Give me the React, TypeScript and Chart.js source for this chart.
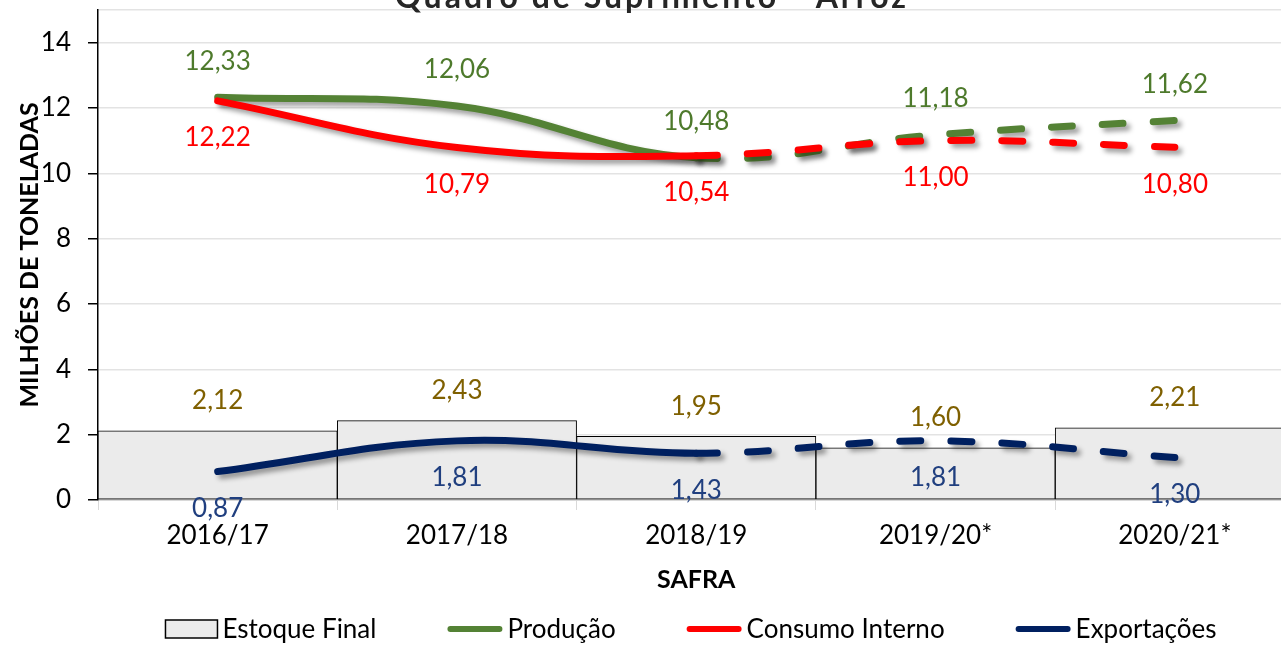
import { useEffect, useRef } from 'react';
import { Chart, registerables } from 'chart.js';

Chart.register(...registerables);

const categories = ['2016/17', '2017/18', '2018/19', '2019/20*', '2020/21*'];
const estoqueFinal = [2.12, 2.43, 1.95, 1.6, 2.21];
const producao = [12.33, 12.06, 10.48, 11.18, 11.62];
const consumoInterno = [12.22, 10.79, 10.54, 11.0, 10.8];
const exportacoes = [0.87, 1.81, 1.43, 1.81, 1.3];
const yTickValues = [0, 2, 4, 6, 8, 10, 12, 14];
const seriesNames = ['Estoque Final', 'Produção', 'Consumo Interno', 'Exportações'];
const titleText = 'Quadro de Suprimento - Arroz';
const xTitle = 'SAFRA';
const yTitle = 'MILHÕES DE TONELADAS';

const FONT = 'Lato, "Open Sans", sans-serif';
const COLORS = {
  bar: '#ebebeb',
  green: '#548235',
  red: '#ff0000',
  navy: '#002060',
};
const LABEL_STYLE = [
  { color: '#7f6000', offset: -30 },
  { color: '#4e7a2c', offset: -36 },
  { color: '#ff0000', offset: 37 },
  { color: '#203f7f', offset: 37 },
];

const fmt = (v: number) => v.toFixed(2).replace('.', ',');

const dashedAfter = (ctx: any) => (ctx.p0DataIndex >= 2 ? [21, 30] : undefined);

const shadowPlugin = {
  id: 'lineShadow',
  beforeDatasetDraw(chart: any, args: any) {
    const ds = chart.data.datasets[args.index];
    if (ds.type === 'line') {
      const ctx = chart.ctx;
      ctx.save();
      ctx.shadowColor = 'rgba(0,0,0,0.38)';
      ctx.shadowOffsetX = 4;
      ctx.shadowOffsetY = 4;
      ctx.shadowBlur = 5;
    }
  },
  afterDatasetDraw(chart: any, args: any) {
    const ds = chart.data.datasets[args.index];
    if (ds.type === 'line') chart.ctx.restore();
  },
};

const labelsPlugin = {
  id: 'valueLabels',
  afterDatasetsDraw(chart: any) {
    const ctx = chart.ctx;
    ctx.save();
    ctx.font = `26px ${FONT}`;
    ctx.textAlign = 'center';
    ctx.textBaseline = 'middle';
    chart.data.datasets.forEach((ds: any, i: number) => {
      const meta = chart.getDatasetMeta(i);
      const st = LABEL_STYLE[i];
      ctx.fillStyle = st.color;
      meta.data.forEach((el: any, j: number) => {
        ctx.fillText(fmt(ds.data[j]), el.x, el.y + st.offset);
      });
    });
    ctx.restore();
  },
};

const titlePlugin = {
  id: 'topTitle',
  afterDraw(chart: any) {
    const ctx = chart.ctx;
    ctx.save();
    ctx.font = `bold 32px ${FONT}`;
    (ctx as any).letterSpacing = '3px';
    ctx.fillStyle = '#262626';
    ctx.textAlign = 'center';
    ctx.textBaseline = 'alphabetic';
    ctx.fillText(titleText, 652, 8);
    ctx.restore();
  },
};

const legendPlugin = {
  id: 'customLegend',
  afterDraw(chart: any) {
    const ctx = chart.ctx;
    ctx.save();
    ctx.font = `26px ${FONT}`;
    ctx.textBaseline = 'middle';
    ctx.textAlign = 'left';
    const markerW = [52, 55, 55, 55];
    const gapText = 5;
    const gapItem = 71;
    const widths = seriesNames.map((n, i) => markerW[i] + gapText + ctx.measureText(n).width);
    const total = widths.reduce((a, b) => a + b, 0) + gapItem * (seriesNames.length - 1);
    let x = 691 - total / 2;
    const cy = 629;
    const ds = chart.data.datasets;
    seriesNames.forEach((n, i) => {
      if (i === 0) {
        ctx.fillStyle = ds[0].backgroundColor;
        ctx.strokeStyle = '#000';
        ctx.lineWidth = 1.5;
        ctx.fillRect(x, cy - 9, markerW[0], 18);
        ctx.strokeRect(x, cy - 9, markerW[0], 18);
      } else {
        ctx.strokeStyle = ds[i].borderColor;
        ctx.lineWidth = 6;
        ctx.lineCap = 'round';
        ctx.beginPath();
        ctx.moveTo(x + 3, cy);
        ctx.lineTo(x + markerW[i] - 3, cy);
        ctx.stroke();
      }
      ctx.fillStyle = '#000';
      ctx.fillText(n, x + markerW[i] + gapText, cy + 1);
      x += widths[i] + gapItem;
    });
    ctx.restore();
  },
};

export default function App() {
  const ref = useRef<HTMLCanvasElement | null>(null);

  useEffect(() => {
    if (!ref.current) return;
    const lineBase = {
      type: 'line' as const,
      borderWidth: 7,
      tension: 0.4,
      pointRadius: 0,
      pointHoverRadius: 0,
      borderCapStyle: 'round' as const,
      borderJoinStyle: 'round' as const,
      fill: false,
      segment: { borderDash: dashedAfter },
    };
    const chart = new Chart(ref.current, {
      type: 'bar',
      data: {
        labels: categories,
        datasets: [
          {
            type: 'bar',
            label: seriesNames[0],
            data: estoqueFinal,
            backgroundColor: COLORS.bar,
            borderColor: '#000',
            borderWidth: 1,
            borderSkipped: false,
            barPercentage: 1,
            categoryPercentage: 1,
            order: 10,
          },
          { ...lineBase, label: seriesNames[1], data: producao, borderColor: COLORS.green, order: 3 },
          { ...lineBase, label: seriesNames[2], data: consumoInterno, borderColor: COLORS.red, order: 2 },
          { ...lineBase, label: seriesNames[3], data: exportacoes, borderColor: COLORS.navy, order: 1 },
        ] as any,
      },
      options: {
        responsive: false,
        animation: false,
        devicePixelRatio: 1,
        layout: { padding: { top: 10, left: 0, right: 0, bottom: 46 } },
        plugins: {
          legend: { display: false },
          tooltip: { enabled: false },
          title: { display: false },
        },
        scales: {
          x: {
            grid: { drawOnChartArea: false, tickLength: 10, tickColor: '#d9d9d9', offset: true },
            border: { color: '#bfbfbf', width: 1.5 },
            ticks: { font: { family: FONT, size: 26 }, color: '#000', padding: 10, maxRotation: 0, autoSkip: false },
            title: {
              display: true,
              text: xTitle,
              color: '#000',
              font: { family: FONT, size: 25, weight: 'bold' },
              padding: { top: 0, bottom: 5 },
            },
            afterFit: (s: any) => {
              s.height = 100;
              s.paddingLeft = 0;
              s.paddingRight = 0;
            },
          },
          y: {
            min: 0,
            max: 15,
            ticks: {
              stepSize: 2,
              font: { family: FONT, size: 26 },
              color: '#000',
              padding: 17,
              callback: (v: any) => (yTickValues.includes(Number(v)) ? String(v) : ''),
            },
            grid: {
              color: '#e3e3e3',
              lineWidth: 1.5,
              tickLength: 10,
              tickWidth: 1.5,
              tickColor: (c: any) => (c.tick && yTickValues.includes(c.tick.value) ? '#000' : 'rgba(0,0,0,0)'),
            },
            border: { color: '#000', width: 1.5 },
            title: {
              display: true,
              text: yTitle,
              color: '#000',
              font: { family: FONT, size: 25, weight: 'bold' },
              padding: { top: 15, bottom: 0 },
            },
            afterFit: (s: any) => {
              s.width = 98;
              s.paddingTop = 0;
              s.paddingBottom = 0;
            },
          },
          yR: {
            type: 'linear',
            position: 'right',
            display: true,
            grid: { display: false },
            border: { display: false },
            ticks: { display: false },
            afterFit: (s: any) => {
              s.width = 87.5;
              s.paddingTop = 0;
              s.paddingBottom = 0;
            },
          },
        },
      } as any,
      plugins: [shadowPlugin, labelsPlugin, titlePlugin, legendPlugin],
    });
    return () => chart.destroy();
  }, []);

  return (
    <div style={{ position: 'fixed', left: 0, top: 0, width: 1281, height: 646, overflow: 'hidden', background: '#fff' }}>
      <canvas ref={ref} width={1382} height={646} style={{ display: 'block', width: 1382, height: 646 }} />
    </div>
  );
}
